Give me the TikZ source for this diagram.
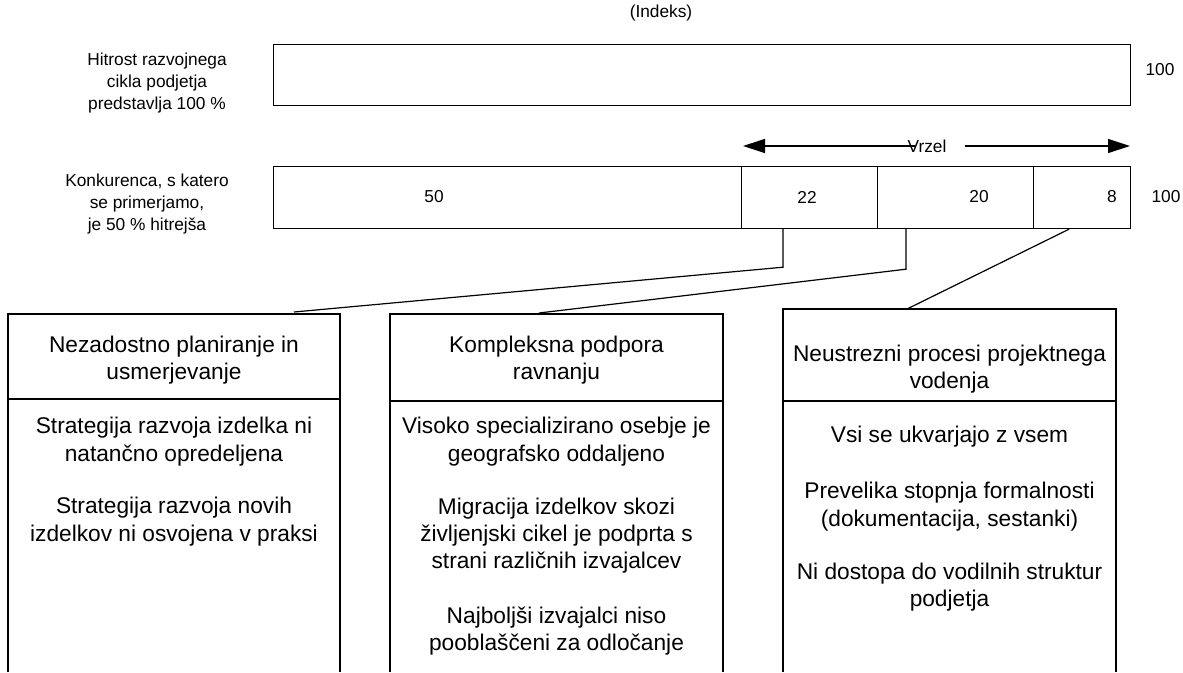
\documentclass[tikz,border=0pt]{standalone}
\usepackage{fontspec}
\setmainfont{Liberation Sans}
\usetikzlibrary{arrows.meta,calc}
\begin{document}
\begin{tikzpicture}[x=1pt,y=-1pt,
  frame/.style={draw=black,line width=1.2pt},
  cell/.style={frame,rectangle,inner sep=0pt,minimum height=62pt,anchor=north west},
  lbl/.style={font=\fontsize{17.3}{21.6}\selectfont,align=center,inner sep=0pt},
  txt/.style={font=\fontsize{22.7}{27.3}\selectfont,align=center,inner sep=0pt},
  link/.style={draw=black,line width=1.2pt},
  gaparrow/.style={-{Triangle[length=22pt,width=14pt]},line width=1.2pt}]
\useasboundingbox (0,0) rectangle (1183,672);

% index heading
\node[lbl] (indeks) at (661,13) {(Indeks)};

% own development cycle = 100
\node[cell,minimum width=857pt,minimum height=61pt] (bar) at (273,44) {};
\node[lbl] (own) at (157,83) {Hitrost razvojnega\\cikla podjetja\\predstavlja 100 \%};
\node[lbl] (ownv) at (1160,70) {100};

% competitor cycle split into parts
\node[cell,minimum width=468pt] (c50) at (273,166) {};
\node[cell,minimum width=136pt] (c22) at (741,166) {};
\node[cell,minimum width=156pt] (c20) at (877,166) {};
\node[cell,minimum width=97pt]  (c8)  at (1033,166) {};
\node[lbl] (n50) at (434,197) {50};
\node[lbl] (n22) at (807,197) {22};
\node[lbl] (n20) at (979,197) {20};
\node[lbl] (n8)  at (1112,197) {8};
\node[lbl] (comp) at (147,204) {Konkurenca, s katero\\se primerjamo,\\je 50 \% hitrejša};
\node[lbl] (compv) at (1166,197) {100};

% gap arrow
\node[lbl] (vrzel) at (927,146) {Vrzel};
\coordinate (gapL) at (743,146);
\coordinate (gapR) at (1130,146);
\draw[gaparrow] ($(vrzel.west)+(8,0)$) -- (gapL);
\draw[gaparrow] ($(vrzel.east)+(18,0)$) -- (gapR);
\draw[line width=2.2pt] ($(vrzel.east)+(18,0)$) -- ($(c8.north west)+(0,-20)$);

% cause boxes (open at the bottom)
\draw[frame] (8,672) |- (340,314) -- (340,672);
\draw[frame] (8,399) -- (340,399);
\draw[frame] (390,672) |- (723,314) -- (723,672);
\draw[frame] (390,401) -- (723,401);
\draw[frame] (783,672) |- (1116,309) -- (1116,672);
\draw[frame] (783,401) -- (1116,401);

\coordinate (in1) at (294,312);
\coordinate (in2) at (539,313);
\coordinate (in3) at (907,309);

% connectors from the parts to the causes
\draw[link] ($(c22.south west)+(42,0)$) -- ++(0,38) -- (in1);
\draw[link] ($(c20.south west)+(29,0)$) -- ++(0,40) -- (in2);
\draw[link] ($(c8.south west)+(36,0)$) -- (in3);

% box 1
\node[txt] (h1) at (174,360) {Nezadostno planiranje in\\usmerjevanje};
\node[txt] (p11) at (174,441.5) {Strategija razvoja izdelka ni\\natančno opredeljena};
\node[txt] (p12) at (174,521.5) {Strategija razvoja novih\\izdelkov ni osvojena v praksi};

% box 2
\node[txt] (h2) at (556.5,360) {Kompleksna podpora\\ravnanju};
\node[txt] (p21) at (556.5,441.5) {Visoko specializirano osebje je\\geografsko oddaljeno};
\node[txt] (p22) at (556.5,535.5) {Migracija izdelkov skozi\\življenjski cikel je podprta s\\strani različnih izvajalcev};
\node[txt] (p23) at (556.5,631) {Najboljši izvajalci niso\\pooblaščeni za odločanje};

% box 3
\node[txt] (h3) at (949.5,369) {Neustrezni procesi projektnega\\vodenja};
\node[txt] (p31) at (949.5,437) {Vsi se ukvarjajo z vsem};
\node[txt] (p32) at (949.5,506.5) {Prevelika stopnja formalnosti\\(dokumentacija, sestanki)};
\node[txt] (p33) at (949.5,587) {Ni dostopa do vodilnih struktur\\podjetja};
\end{tikzpicture}
\end{document}
